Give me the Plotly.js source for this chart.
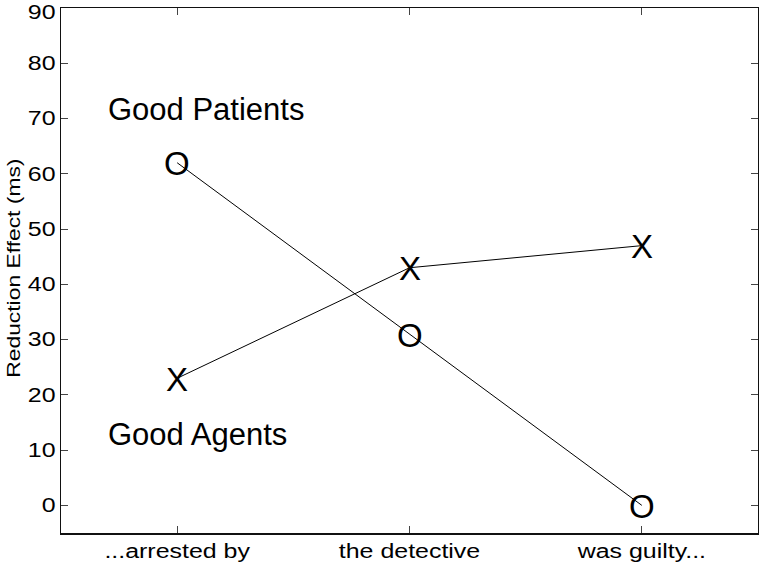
<!DOCTYPE html>
<html>
<head>
<meta charset="utf-8">
<script src="https://cdn.plot.ly/plotly-3.0.1.min.js"></script>
<style>
  html, body { margin: 0; padding: 0; background: #fff; }
  #chart { width: 759px; height: 567px; }
</style>
</head>
<body>
<div id="chart"></div>
<script>
// Sentence regions
const regions = ['...arrested by', 'the detective', 'was guilty...'];
// Reduction effect (ms) for each condition
const goodPatients = [62, 31, 0];
const goodAgents = [23, 43, 47];
const yTicks = [0, 10, 20, 30, 40, 50, 60, 70, 80, 90];

const font = '"Liberation Sans", Arial, Helvetica, sans-serif';

// Connecting lines for both conditions
const traces = [
  { x: regions, y: goodPatients, type: 'scatter', mode: 'lines',
    line: { color: '#000', width: 1 }, hoverinfo: 'y', showlegend: false },
  { x: regions, y: goodAgents, type: 'scatter', mode: 'lines',
    line: { color: '#000', width: 1 }, hoverinfo: 'y', showlegend: false }
];

// Letter markers ("O" / "X") placed at each data point
function letterMarks(values, letter) {
  return values.map((v, i) => ({
    x: regions[i], y: v, xref: 'x', yref: 'y',
    xanchor: 'center', yanchor: 'middle', showarrow: false, yshift: -1,
    text: letter, font: { family: font, size: 33, color: '#000' }
  }));
}

const axisCommon = {
  showline: true, linecolor: '#111', linewidth: 1.5, mirror: 'allticks',
  ticks: 'inside', ticklen: 7, tickcolor: '#444', tickwidth: 1,
  showgrid: false, zeroline: false, ticklabeloverflow: 'allow',
  tickfont: { family: font, size: 19.5, color: '#000' }
};

const layout = {
  width: 759, height: 567,
  margin: { l: 61, r: 1, t: 8, b: 34 },
  paper_bgcolor: '#fff', plot_bgcolor: '#fff',
  xaxis: Object.assign({}, axisCommon, {
    type: 'category', range: [-0.5, 2.5]
  }),
  yaxis: Object.assign({}, axisCommon, {
    range: [-5, 90], tickvals: yTicks, ticktext: yTicks.map(String)
  }),
  annotations: [
    { x: 0, y: 0.5, xref: 'paper', yref: 'paper', xanchor: 'center', yanchor: 'middle',
      xshift: -47, yshift: 2, textangle: -90, showarrow: false,
      text: 'Reduction Effect (ms)', font: { family: font, size: 18, color: '#000' } },
    { x: -0.305, y: 71.7, xref: 'x', yref: 'y', xanchor: 'left', yanchor: 'middle',
      text: 'Good Patients', showarrow: false, font: { family: font, size: 31, color: '#000' } },
    { x: -0.305, y: 12.9, xref: 'x', yref: 'y', xanchor: 'left', yanchor: 'middle',
      text: 'Good Agents', showarrow: false, font: { family: font, size: 31, color: '#000' } }
  ].concat(letterMarks(goodPatients, 'O'), letterMarks(goodAgents, 'X'))
};

// Widen a text element along its own baseline, keeping its anchor point fixed
function widen(el, s, dy) {
  const x = parseFloat(el.getAttribute('x')) || 0;
  const y = parseFloat(el.getAttribute('y')) || 0;
  const t = el.getAttribute('transform') || '';
  el.setAttribute('transform',
    t + ' translate(' + x + ',' + (y + (dy || 0)) + ') scale(' + s + ',1) translate(' + (-x) + ',' + (-y) + ')');
}

const topLabel = String(yTicks[yTicks.length - 1]);

Plotly.newPlot('chart', traces, layout, { displayModeBar: false, staticPlot: true }).then(gd => {
  gd.querySelectorAll('.xtick text').forEach(el => widen(el, 1.28));
  // the topmost y label is nudged down so it stays inside the figure
  gd.querySelectorAll('.ytick text').forEach(el =>
    widen(el, 1.28, el.textContent === topLabel ? 4 : 0));
  const ann = gd.querySelectorAll('.annotation text.annotation-text');
  if (ann[0]) widen(ann[0], 1.27);
});
</script>
</body>
</html>
